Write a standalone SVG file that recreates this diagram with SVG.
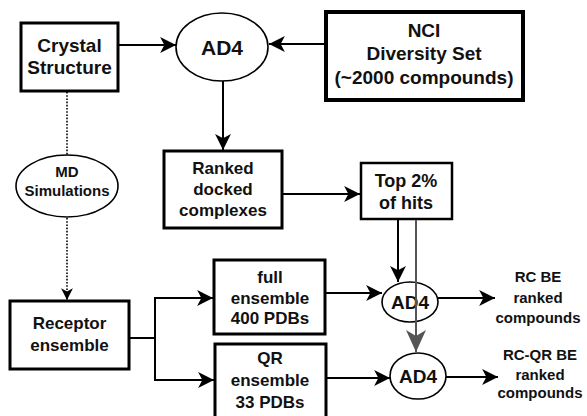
<svg xmlns="http://www.w3.org/2000/svg" width="587" height="416" viewBox="0 0 587 416">
  <defs>
    <style>
      .box { fill: #fff; stroke: #000; }
      .ell { fill: #fff; stroke: #000; stroke-width: 1.6; }
      .t { font-family: "Liberation Sans", Arial, sans-serif; font-weight: bold; text-anchor: middle; fill: #111; }
      .ln { fill: none; stroke: #000; stroke-width: 2; }
      .dot { fill: none; stroke: #000; stroke-width: 1.6; stroke-dasharray: 1.6 1.6; }
      .gray { fill: none; stroke: #555; stroke-width: 2; }
    </style>
    <marker id="ah" markerUnits="userSpaceOnUse" markerWidth="18" markerHeight="18" viewBox="-16 -8 17 16" refX="0" refY="0" orient="auto">
      <path d="M0,0 L-15,-7.5 L-11,0 L-15,7.5 Z" fill="#000"/>
    </marker>
    <marker id="ahs" markerUnits="userSpaceOnUse" markerWidth="14" markerHeight="14" viewBox="-12 -6 13 12" refX="0" refY="0" orient="auto">
      <path d="M0,0 L-11,-5.5 L-8,0 L-11,5.5 Z" fill="#000"/>
    </marker>
    <marker id="ahg" markerUnits="userSpaceOnUse" markerWidth="24" markerHeight="24" viewBox="-23 -11 24 22" refX="0" refY="0" orient="auto">
      <path d="M0,0 L-22,-10 L-16,0 L-22,10 Z" fill="#555"/>
    </marker>
  </defs>

  <!-- connectors -->
  <g id="connectors">
    <line class="ln" x1="119" y1="45" x2="176" y2="45" marker-end="url(#ah)"/>
    <line class="ln" x1="325" y1="44" x2="269" y2="44" marker-end="url(#ah)"/>
    <line class="ln" x1="223" y1="81" x2="223" y2="150" marker-end="url(#ah)"/>
    <line class="ln" x1="283" y1="194" x2="360" y2="194" marker-end="url(#ah)"/>
    <line class="ln" x1="398" y1="220" x2="398" y2="282" marker-end="url(#ah)"/>
    <line class="dot" x1="67" y1="92" x2="67" y2="155"/>
    <line class="dot" x1="67" y1="218" x2="67" y2="300" marker-end="url(#ahs)"/>
    <polyline class="ln" points="130,338 155,338"/>
    <polyline class="ln" points="155,298 155,380"/>
    <line class="ln" x1="154" y1="298" x2="213" y2="298" marker-end="url(#ah)"/>
    <line class="ln" x1="154" y1="380" x2="214" y2="380" marker-end="url(#ah)"/>
    <line class="ln" x1="326" y1="293" x2="382" y2="293" marker-end="url(#ah)"/>
    <line class="ln" x1="438" y1="298" x2="495" y2="298" marker-end="url(#ah)"/>
    <line class="ln" x1="327" y1="378" x2="390" y2="378" marker-end="url(#ah)"/>
    <line class="ln" x1="446" y1="377" x2="498" y2="377" marker-end="url(#ah)"/>
  </g>

  <g id="crystal">
    <rect class="box" x="21" y="23" width="97" height="68" stroke-width="3"/>
    <text class="t" font-size="19" x="69.5" y="51.5">Crystal</text>
    <text class="t" font-size="19" x="69.5" y="73.5">Structure</text>
  </g>

  <g id="ad4-dock">
    <ellipse class="ell" cx="222" cy="47" rx="46" ry="34"/>
    <text class="t" font-size="21" x="222" y="54.5">AD4</text>
  </g>

  <g id="nci">
    <rect class="box" x="326" y="12" width="197" height="88" stroke-width="4"/>
    <text class="t" font-size="19" x="424" y="36.5">NCI</text>
    <text class="t" font-size="19" x="424" y="59.5">Diversity Set</text>
    <text class="t" font-size="19" x="424" y="83.5">(~2000 compounds)</text>
  </g>

  <g id="md">
    <ellipse class="ell" cx="67" cy="186" rx="51" ry="31"/>
    <text class="t" font-size="15" x="67" y="177">MD</text>
    <text class="t" font-size="15" x="67" y="196">Simulations</text>
  </g>

  <g id="ranked">
    <rect class="box" x="164" y="151" width="118" height="77" stroke-width="3"/>
    <text class="t" font-size="17" x="223" y="174">Ranked</text>
    <text class="t" font-size="17" x="223" y="195">docked</text>
    <text class="t" font-size="17" x="223" y="216">complexes</text>
  </g>

  <g id="top-hits">
    <rect class="box" x="361" y="163" width="91" height="56" stroke-width="2.5"/>
    <text class="t" font-size="18" x="406" y="186.5">Top 2%</text>
    <text class="t" font-size="18" x="406" y="208.5">of hits</text>
  </g>

  <g id="receptor">
    <rect class="box" x="10" y="301" width="119" height="68" stroke-width="3"/>
    <text class="t" font-size="17" x="69.5" y="329">Receptor</text>
    <text class="t" font-size="17" x="69.5" y="351">ensemble</text>
  </g>

  <g id="full">
    <rect class="box" x="214" y="260" width="111" height="74" stroke-width="3"/>
    <text class="t" font-size="17" x="270" y="283">full</text>
    <text class="t" font-size="17" x="270" y="304">ensemble</text>
    <text class="t" font-size="17" x="270" y="324">400 PDBs</text>
  </g>

  <g id="qr">
    <rect class="box" x="215" y="344" width="111" height="76" stroke-width="3"/>
    <text class="t" font-size="17" x="270" y="364">QR</text>
    <text class="t" font-size="17" x="270" y="386">ensemble</text>
    <text class="t" font-size="17" x="270" y="408">33 PDBs</text>
  </g>

  <g id="ad4-full">
    <ellipse class="ell" cx="410" cy="302" rx="28" ry="20"/>
    <text class="t" font-size="19" x="410" y="309">AD4</text>
  </g>

  <g id="ad4-qr">
    <ellipse class="ell" cx="418" cy="376" rx="28" ry="23"/>
    <text class="t" font-size="19" x="418" y="383">AD4</text>
  </g>

  <!-- gray connector from the hits box runs over the first AD4 node -->
  <g id="connector-gray">
    <line class="gray" x1="416" y1="220" x2="416" y2="352" marker-end="url(#ahg)"/>
  </g>

  <g id="rc-be">
    <text class="t" font-size="15" x="538" y="282">RC BE</text>
    <text class="t" font-size="15" x="538" y="303">ranked</text>
    <text class="t" font-size="15" x="538" y="323">compounds</text>
  </g>

  <g id="rc-qr-be">
    <text class="t" font-size="15" x="540" y="360">RC-QR BE</text>
    <text class="t" font-size="15" x="540" y="380">ranked</text>
    <text class="t" font-size="15" x="540" y="398">compounds</text>
  </g>
</svg>
